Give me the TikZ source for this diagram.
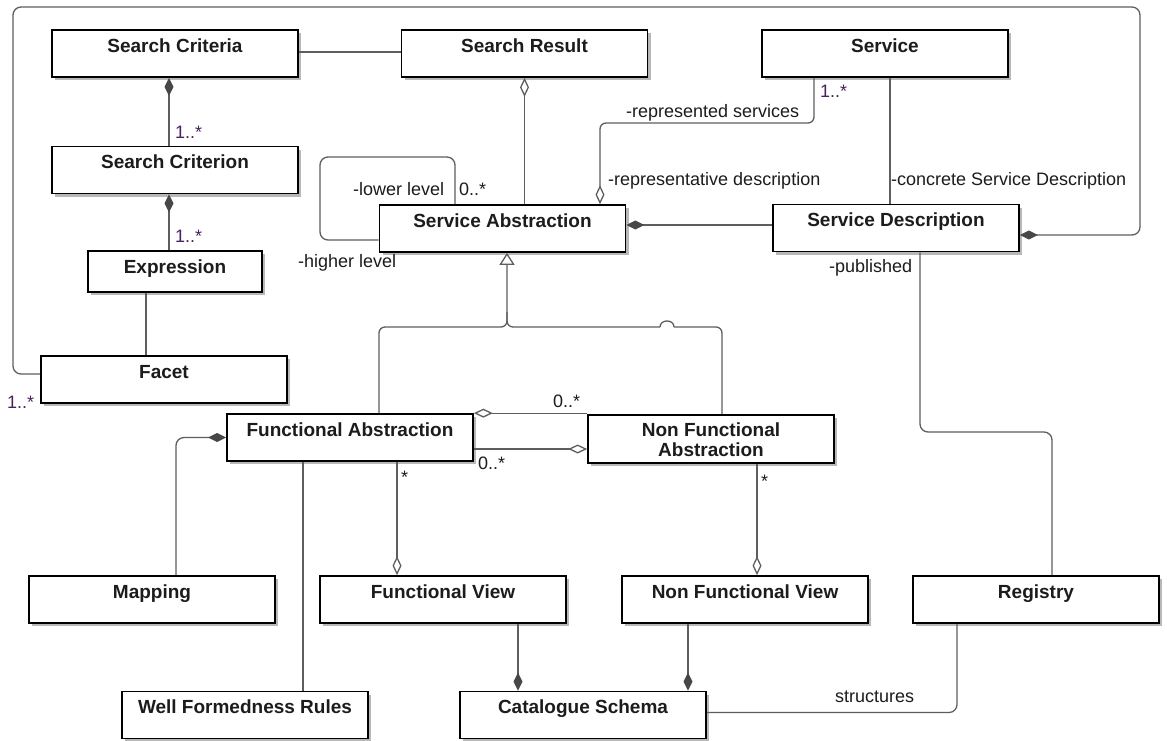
\documentclass[tikz,border=0pt]{standalone}
\usepackage{fontspec}
\setmainfont{Liberation Sans}
\usetikzlibrary{arrows.meta,shadows}

\definecolor{wire}{HTML}{5E5E5E}
\definecolor{tipfill}{HTML}{474747}
\definecolor{multi}{HTML}{4B2060}
\definecolor{ink}{HTML}{1C1C1C}

\tikzset{
  umlclass/.style={draw=black, line width=1.7pt, fill=white,
    minimum width=246pt, minimum height=47pt, inner sep=0pt,
    text height=22pt, text depth=25pt, text=ink,
    font=\fontsize{19}{20}\selectfont\bfseries,
    drop shadow={shadow xshift=3pt, shadow yshift=-3pt, fill=black!28, opacity=1}},
  conn/.style={draw=wire, line width=1.3pt},
  comp/.tip={Diamond[length=18pt, width=9pt, color=tipfill, fill=tipfill]},
  agg/.tip={Diamond[open, length=19pt, width=9pt, fill=white]},
  gen/.tip={Triangle[open, length=12pt, width=15pt, fill=white]},
  role/.style={font=\fontsize{18}{20}\selectfont, text=ink, anchor=base west, inner sep=0pt},
  mult/.style={role, text=multi}
}

\begin{document}
\begin{tikzpicture}[x=1pt, y=-1pt]
\fill[white] (0,0) rectangle (1167,740);
\useasboundingbox (0,0) rectangle (1167,740);

% classes
\node[umlclass] (crit)  at (175,53.5)  {Search Criteria};
\node[umlclass] (crion) at (175,170)   {Search Criterion};
\node[umlclass, minimum width=174pt, minimum height=41pt, text depth=19pt] (expr) at (175,271.5) {Expression};
\node[umlclass] (facet) at (164,379.5) {Facet};
\node[umlclass] (sres)  at (524.5,53.5) {Search Result};
\node[umlclass] (serv)  at (885,53.5)  {Service};
\node[umlclass] (sabs)  at (502.5,228.5) {Service Abstraction};
\node[umlclass] (sdesc) at (896,228)   {Service Description};
\node[umlclass] (fabs)  at (350,437.5) {Functional Abstraction};
\node[umlclass, minimum height=48pt, text height=0pt, text depth=0pt,
      label={[name=nfabstext, anchor=north, yshift=-8pt, align=center, inner sep=0pt,
              text=ink, font=\fontsize{19}{20}\selectfont\bfseries]north:Non Functional\\Abstraction}]
      (nfabs) at (711,439) {};
\node[umlclass] (map)    at (152,599.5) {Mapping};
\node[umlclass] (fview)  at (443,599.5) {Functional View};
\node[umlclass] (nfview) at (745,599.5) {Non Functional View};
\node[umlclass] (reg)    at (1036,599.5) {Registry};
\node[umlclass] (wfr)    at (245,715)   {Well Formedness Rules};
\node[umlclass] (cat)    at (583,715)   {Catalogue Schema};

% search side
\draw[conn, comp-] ([xshift=-6pt]crit.south) -- ([xshift=-6pt]crit.south |- crion.north);
\draw[conn, comp-] ([xshift=-6pt]crion.south) -- ([xshift=-6pt]crion.south |- expr.north);
\draw[conn] ([xshift=-29pt]expr.south) -- ([xshift=-29pt]expr.south |- facet.north);
\draw[conn] ([yshift=1.5pt]crit.east) -- ([yshift=1.5pt]crit.east -| sres.west);
\draw[conn, rounded corners=8pt, comp-] ([yshift=-7pt]sdesc.east) -| (1140,7) -| (13,374) -- ([yshift=5.5pt]facet.west);
\draw[conn, agg-] (sres.south) -- (sres.south |- sabs.north);

% service abstraction and description
\draw[conn, rounded corners=8pt] ([xshift=-47.5pt]sabs.north) |- (320,157) |- ([yshift=-11.5pt]sabs.west);
\draw[conn, rounded corners=6pt, agg-] ([xshift=97.5pt]sabs.north) |- (814,123) -- ([xshift=-71pt]serv.south);
\draw[conn] ([xshift=5pt]serv.south) -- ([xshift=5pt]serv.south |- sdesc.north);
\draw[conn, comp-] ([yshift=3.5pt]sabs.east) -- ([yshift=3.5pt]sabs.east -| sdesc.west);
\draw[conn, rounded corners=8pt] ([xshift=24pt]sdesc.south) |- (1052,432) -- ([xshift=16pt]reg.north);

% generalization
\coordinate (genjoin) at (507,327);
\draw[conn, gen-, rounded corners=6pt] ([xshift=4.5pt]sabs.south) |- (379,327) -- ([xshift=29pt]fabs.north);
\draw[conn, rounded corners=6pt] (507,312) -- (genjoin) -- (660,327);
\draw[conn] (660,327) .. controls (660,319) and (674,319) .. (674,327);
\draw[conn, rounded corners=6pt] (674,327) -- (722,327) -- ([xshift=11pt]nfabs.north);

% abstractions and views
\draw[conn, agg-] (fabs.north east) -- (fabs.north east -| nfabs.west);
\draw[conn, -agg] ([yshift=-11.5pt]fabs.east) -- ([yshift=-11.5pt]fabs.east -| nfabs.west);
\draw[conn, -agg] ([xshift=47pt]fabs.south) -- ([xshift=47pt]fabs.south |- fview.north);
\draw[conn, -agg] ([xshift=46pt]nfabs.south) -- ([xshift=46pt]nfabs.south |- nfview.north);
\draw[conn, rounded corners=8pt, comp-] (fabs.west) -| ([xshift=24pt]map.north);
\draw[conn] ([xshift=-47pt]fabs.south) -- ([xshift=-47pt]fabs.south |- wfr.north);
\draw[conn, -comp] ([xshift=75pt]fview.south) -- ([xshift=75pt]fview.south |- cat.north);
\draw[conn, -comp] ([xshift=-57pt]nfview.south) -- ([xshift=-57pt]nfview.south |- cat.north);
\draw[conn, rounded corners=8pt] ([xshift=-79pt]reg.south) |- ([yshift=2.5pt]cat.east);

% roles and multiplicities
\node[mult] (m1) at (175,138) {1..*};
\node[mult] (m2) at (175,242) {1..*};
\node[mult] (m3) at (7,408)   {1..*};
\node[role] (r1) at (353,195) {-lower level};
\node[role] (m4) at (459,195) {0..*};
\node[role] (r2) at (298,267) {-higher level};
\node[role] (r3) at (626,117) {-represented services};
\node[mult] (m5) at (820,97)  {1..*};
\node[role] (r4) at (608,185) {-representative description};
\node[role] (r5) at (891,185) {-concrete Service Description};
\node[role] (r6) at (829,272) {-published};
\node[role] (m6) at (553,407) {0..*};
\node[role] (m7) at (478,469) {0..*};
\node[role] (m8) at (401,483) {*};
\node[role] (m9) at (761,487) {*};
\node[role] (r7) at (835,702) {structures};
\end{tikzpicture}
\end{document}
